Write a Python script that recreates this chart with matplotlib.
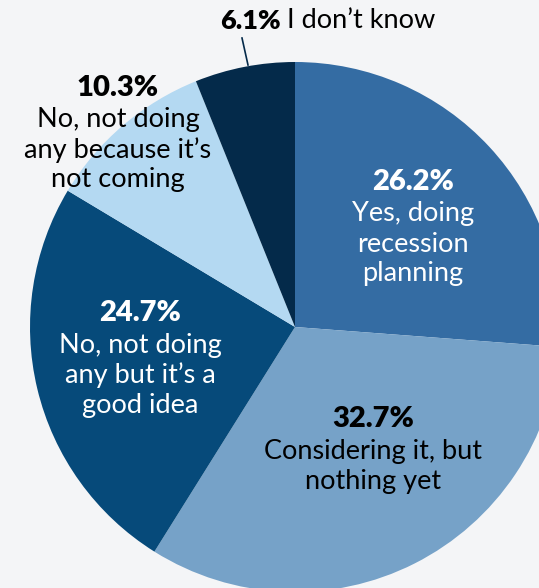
import matplotlib.pyplot as plt

plt.rcParams["font.family"] = ["Lato", "DejaVu Sans"]

# survey answers, clockwise from 12 o'clock
labels = ["Yes, doing\nrecession\nplanning",
          "Considering it, but\nnothing yet",
          "No, not doing\nany but it\u2019s a\ngood idea",
          "No, not doing\nany because it\u2019s\nnot coming",
          "I don\u2019t know"]
shares = [26.2, 32.7, 24.7, 10.3, 6.1]
colors = ["#346ca3", "#76a2c8", "#064a7a", "#b4d9f2", "#042a4a"]
text_colors = ["white", "black", "white", "black", "black"]

W, H = 539, 588
bg = "#f4f5f7"

fig = plt.figure(figsize=(W / 100, H / 100), dpi=100, facecolor=bg)
ax = fig.add_axes([0, 0, 1, 1])
ax.set_facecolor(bg)

# work in pixel rows, y negated so the pie stays in a y-up frame
cx, cy, r = 295, 327, 265
ax.pie(shares, colors=colors, startangle=90, counterclock=False,
       center=(cx, -cy), radius=r, frame=True,
       wedgeprops=dict(linewidth=0))
ax.set_xlim(0, W)
ax.set_ylim(-H, 0)
ax.set_aspect("equal")
ax.axis("off")

fs = 19.5
step = 30
# in-slice labels: (x, y of percent line)
spots = [(413, 182), (373, 419), (140, 313), (118, 88)]
for (x, y), lab, val, tc in zip(spots, labels[:4], shares[:4], text_colors[:4]):
    ax.text(x, -y, f"{val}%", ha="center", va="center", fontsize=fs + 1.5,
            fontweight="heavy", color=tc)
    for i, line in enumerate(lab.split("\n")):
        ax.text(x, -(y + 32 + i * step), line, ha="center", va="center",
                fontsize=fs, color=tc)

# outside label for the small slice with a leader line
ax.plot([242, 248], [-38, -65], color="#042a4a", lw=1.2)
ax.text(281, -21, f"{shares[4]}%", ha="right", va="center",
        fontsize=fs, fontweight="heavy", color="black")
ax.text(287, -21, labels[4], ha="left", va="center", fontsize=fs,
        color="black")

fig.savefig("out.png", dpi=100, facecolor=bg)
